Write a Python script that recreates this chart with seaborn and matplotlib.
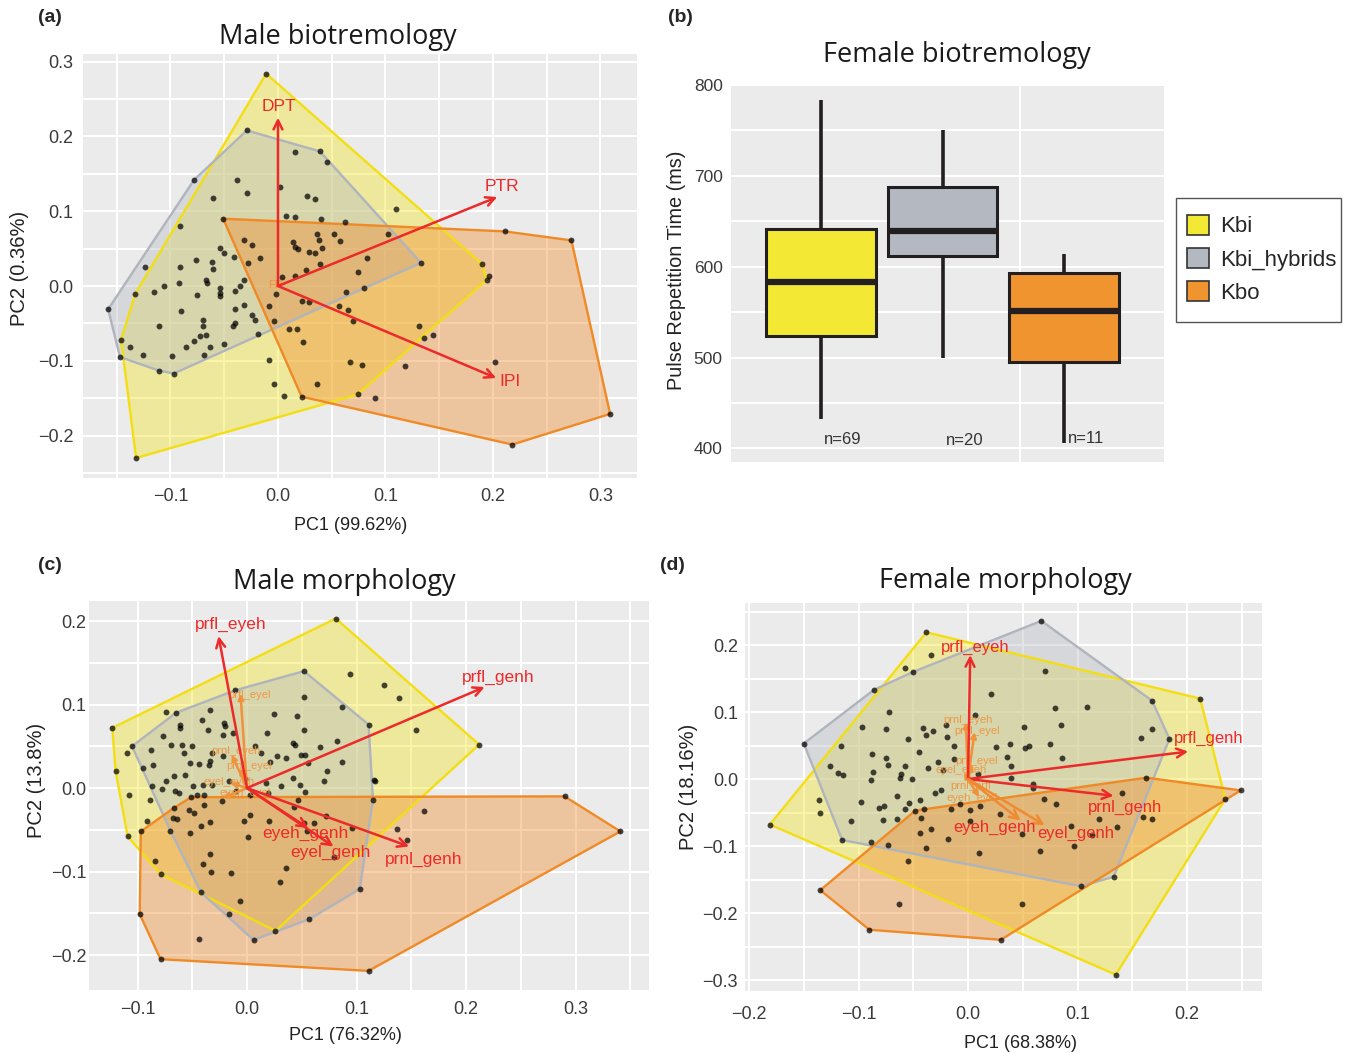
import numpy as np
import pandas as pd
import matplotlib
matplotlib.use("Agg")
import matplotlib.pyplot as plt
from matplotlib.patches import Patch, Rectangle
import seaborn as sns

# ---------------- DATA ----------------
GROUPS = ["Kbi", "Kbi_hybrids", "Kbo"]

# Panel (a) Male biotremology PCA scores
A_KBI = [(-0.011, 0.284), (0.190, 0.029), (0.194, 0.008), (0.074, -0.145), (-0.132, -0.230),
         (-0.146, -0.072), (-0.133, -0.011),
         (0.016, 0.179), (-0.038, 0.142), (-0.029, 0.124), (0.002, 0.132), (-0.060, 0.117),
         (0.027, 0.120), (0.034, 0.116), (0.110, 0.103), (0.007, 0.094), (0.016, 0.092),
         (0.040, 0.089), (0.062, 0.086), (-0.032, 0.062), (-0.024, 0.055), (0.036, 0.069),
         (0.038, 0.061), (0.052, 0.069), (0.058, 0.060), (0.102, 0.069), (0.014, 0.059),
         (0.016, 0.052), (0.019, 0.049), (0.041, 0.051), (0.029, 0.045), (0.034, 0.044),
         (-0.054, 0.051), (-0.050, 0.044), (-0.041, 0.039), (-0.076, 0.035), (-0.061, 0.032),
         (-0.017, 0.037), (-0.028, 0.031), (0.039, 0.029), (0.083, 0.038), (-0.091, 0.025),
         (-0.060, 0.023), (0.026, 0.022), (0.004, 0.012), (0.016, 0.014), (0.074, 0.019),
         (-0.067, 0.008), (-0.066, 0.004), (-0.032, 0.008), (-0.092, 0.004), (-0.106, 0.000),
         (-0.115, -0.008), (-0.054, -0.002), (-0.054, -0.009), (-0.040, -0.007), (-0.035, 0.000),
         (-0.075, -0.012), (-0.054, -0.014), (0.063, -0.008), (-0.002, -0.011), (-0.008, -0.027),
         (0.022, -0.020), (0.029, -0.021), (0.057, -0.027), (0.065, -0.032), (-0.040, -0.031),
         (-0.032, -0.026), (-0.090, -0.033), (-0.024, -0.039), (-0.021, -0.046), (-0.004, -0.047),
         (-0.070, -0.046), (-0.070, -0.054), (-0.040, -0.049), (-0.042, -0.054), (-0.111, -0.053),
         (0.070, -0.047), (0.010, -0.057), (0.018, -0.058), (-0.073, -0.067), (-0.067, -0.066),
         (-0.078, -0.073), (0.023, -0.075), (-0.050, -0.078), (-0.063, -0.082), (-0.086, -0.081),
         (-0.138, -0.082), (-0.126, -0.092), (-0.099, -0.093), (-0.069, -0.092), (-0.008, -0.099),
         (-0.004, -0.131), (0.006, -0.147)]
A_HYB = [(-0.029, 0.208), (0.039, 0.180), (0.046, 0.166), (0.133, 0.031), (-0.019, -0.064),
         (-0.097, -0.117), (-0.111, -0.113), (-0.147, -0.095), (-0.158, -0.031), (-0.078, 0.142),
         (0.080, -0.002), (-0.091, 0.080), (-0.124, 0.025)]
A_KBO = [(-0.051, 0.090), (0.211, 0.073), (0.273, 0.061), (0.309, -0.171), (0.218, -0.212),
         (0.022, -0.148), (0.131, -0.054), (0.136, -0.069), (0.144, -0.066), (0.067, -0.102),
         (0.078, -0.106), (0.118, -0.107), (0.202, -0.101), (0.036, -0.131), (0.090, -0.150),
         (0.196, 0.014)]
A_ARROW_NAMES = ["DPT", "PTR", "IPI"]
A_ARROW_X = [0.000, 0.204, 0.203]
A_ARROW_Y = [0.225, 0.119, -0.123]
A_LABEL_X = [0.001, 0.208, 0.216]
A_LABEL_Y = [0.240, 0.133, -0.128]

# Panel (b) Female biotremology: pulse repetition time (five-number summaries, ms)
B_KBI = [432, 524, 583, 642, 784]
B_HYB = [499, 612, 639, 688, 751]
B_KBO = [406, 495, 551, 593, 614]
B_N = ["n=69", "n=20", "n=11"]
B_N_Y = [410, 409, 411]

# Panel (c) Male morphology PCA scores
C_KBI = [(0.081, 0.203), (0.212, 0.052), (0.026, -0.171), (-0.079, -0.103), (-0.109, -0.058),
         (-0.120, 0.020), (-0.123, 0.072),
         (0.094, 0.136), (0.125, 0.123), (0.139, 0.108), (0.052, 0.109), (0.154, 0.070),
         (0.087, 0.097), (0.046, 0.086), (0.025, 0.089), (-0.034, 0.094), (-0.074, 0.091),
         (-0.041, 0.082), (-0.021, 0.078), (-0.020, 0.074), (-0.061, 0.076), (-0.061, 0.072),
         (-0.036, 0.070), (-0.022, 0.064), (-0.077, 0.062), (0.018, 0.066), (0.052, 0.069),
         (-0.013, 0.066), (-0.069, 0.051), (-0.059, 0.051), (-0.088, 0.046), (-0.110, 0.042),
         (-0.050, 0.050), (0.042, 0.054), (0.044, 0.051), (0.067, 0.049), (0.082, 0.056),
         (-0.058, 0.042), (-0.032, 0.042), (0.027, 0.038), (0.036, 0.036), (0.049, 0.039),
         (0.053, 0.039), (-0.086, 0.028), (-0.052, 0.030), (-0.044, 0.029), (-0.035, 0.028),
         (-0.034, 0.032), (-0.022, 0.038), (0.007, 0.050), (0.013, 0.042), (0.021, 0.031),
         (0.056, 0.030), (0.087, 0.031), (-0.095, 0.024), (-0.057, 0.016), (-0.067, 0.014),
         (-0.074, 0.009), (-0.087, 0.002), (-0.078, -0.001), (-0.049, 0.003), (-0.040, 0.004),
         (-0.032, 0.004), (-0.016, 0.008), (-0.002, 0.011), (0.017, 0.006), (0.031, 0.003),
         (0.042, 0.012), (0.048, 0.004), (0.070, 0.008), (0.073, 0.020), (0.116, 0.010),
         (0.117, 0.008), (-0.108, -0.008), (-0.089, -0.014), (-0.066, -0.003), (-0.062, -0.006),
         (-0.046, -0.008), (-0.039, -0.008), (-0.010, -0.004), (0.003, -0.008), (0.019, -0.006),
         (0.053, -0.005), (0.047, -0.014), (-0.023, -0.015), (-0.039, -0.020), (-0.053, -0.026),
         (-0.068, -0.036), (-0.064, -0.037), (-0.048, -0.030), (-0.034, -0.041), (-0.042, -0.046),
         (-0.003, -0.039), (0.003, -0.032), (0.020, -0.039), (0.043, -0.023), (0.061, -0.042),
         (0.072, -0.034), (0.096, -0.048), (-0.091, -0.040), (-0.052, -0.054), (0.001, -0.059),
         (0.052, -0.042), (0.055, -0.052), (0.079, -0.083), (-0.034, -0.079), (-0.040, -0.091),
         (0.036, -0.096), (-0.015, -0.102), (-0.033, -0.101), (0.030, -0.113), (-0.006, -0.135),
         (-0.084, -0.087)]
C_HYB = [(-0.105, 0.050), (-0.070, -0.051), (-0.042, -0.125), (-0.016, -0.151), (0.006, -0.182),
         (0.057, -0.157), (0.103, -0.121), (0.115, -0.014), (0.111, 0.076), (0.052, 0.140),
         (-0.011, 0.117), (-0.065, 0.090)]
C_KBO = [(-0.051, -0.011), (0.290, -0.010), (0.341, -0.052), (0.111, -0.219), (-0.079, -0.205),
         (-0.098, -0.151), (-0.097, -0.052), (-0.067, -0.024), (0.137, -0.049), (0.146, -0.062),
         (0.162, -0.028), (-0.044, -0.181)]
C_ARROW_NAMES = ["prfl_eyeh", "prfl_genh", "prnl_genh", "eyeh_genh", "eyel_genh"]
C_ARROW_X = [-0.026, 0.217, 0.148, 0.056, 0.079]
C_ARROW_Y = [0.182, 0.121, -0.070, -0.048, -0.070]
C_LABEL_X = [-0.015, 0.229, 0.161, 0.053, 0.076]
C_LABEL_Y = [0.196, 0.133, -0.086, -0.054, -0.077]
C_SMALL_NAMES = ["prfl_eyel", "prnl_eyeh", "prnl_eyel", "eyel_eyeh", "eyeh_eyel"]
C_SMALL_X = [-0.006, -0.014, -0.006, -0.015, -0.022]
C_SMALL_Y = [0.113, 0.040, 0.024, 0.006, -0.012]
C_SMALL_LX = [0.002, -0.010, 0.002, -0.016, -0.002]
C_SMALL_LY = [0.112, 0.044, 0.026, 0.007, -0.006]

# Panel (d) Female morphology PCA scores
D_KBI = [(-0.038, 0.219), (0.212, 0.120), (0.235, -0.030), (0.135, -0.292), (-0.181, -0.068),
         (-0.034, 0.185), (-0.058, 0.166), (0.070, 0.161), (0.021, 0.127), (-0.072, 0.100),
         (0.079, 0.106), (0.109, 0.107), (-0.097, 0.077), (-0.075, 0.075), (-0.041, 0.076),
         (-0.032, 0.071), (-0.038, 0.065), (-0.055, 0.060), (-0.020, 0.081), (0.006, 0.095),
         (0.051, 0.077), (0.085, 0.080), (0.168, 0.074), (0.158, 0.061), (-0.116, 0.050),
         (-0.019, 0.062), (-0.013, 0.050), (0.026, 0.048), (0.038, 0.053), (0.052, 0.047),
         (0.056, 0.050), (0.075, 0.052), (-0.045, 0.041), (-0.088, 0.037), (-0.075, 0.031),
         (-0.073, 0.021), (-0.058, 0.019), (-0.013, 0.030), (-0.027, 0.026), (0.036, 0.033),
         (0.039, 0.020), (0.086, 0.031), (-0.126, 0.019), (-0.119, 0.009), (-0.114, 0.006),
         (-0.087, 0.010), (-0.061, 0.007), (-0.062, 0.001), (-0.051, 0.000), (-0.037, 0.016),
         (-0.023, 0.013), (0.009, 0.007), (0.039, 0.002), (0.059, -0.007), (0.059, -0.014),
         (-0.089, -0.001), (-0.136, -0.031), (-0.135, -0.051), (-0.098, -0.034), (-0.065, -0.025),
         (-0.054, -0.036), (-0.081, -0.044), (-0.077, -0.040), (-0.058, -0.045), (-0.044, -0.032),
         (-0.040, -0.045), (-0.030, -0.021), (-0.025, -0.017), (-0.016, -0.045), (-0.007, -0.038),
         (0.002, -0.046), (0.011, -0.040), (0.029, -0.052), (0.069, -0.030), (0.080, -0.037),
         (0.141, -0.021), (-0.107, -0.063), (-0.078, -0.061), (-0.065, -0.060), (-0.043, -0.058),
         (-0.034, -0.074), (-0.044, -0.080), (-0.018, -0.090), (0.002, -0.062), (0.010, -0.111),
         (-0.038, -0.103), (-0.073, -0.098), (-0.089, -0.094), (-0.055, -0.123), (0.049, -0.082),
         (0.066, -0.107), (0.094, -0.070), (0.097, -0.100), (0.113, -0.084), (0.120, -0.060),
         (0.136, -0.071), (0.160, -0.056), (0.168, -0.059)]
D_HYB = [(-0.150, 0.053), (-0.086, 0.133), (-0.050, 0.160), (0.067, 0.236), (0.168, 0.117),
         (0.184, 0.060), (0.133, -0.146), (0.103, -0.160), (-0.115, -0.091)]
D_KBO = [(-0.135, -0.166), (-0.048, -0.047), (0.163, 0.002), (0.249, -0.017), (0.030, -0.240),
         (-0.090, -0.225), (-0.063, -0.186), (0.049, -0.186)]
D_ARROW_NAMES = ["prfl_eyeh", "prfl_genh", "prnl_genh", "eyeh_genh", "eyel_genh"]
D_ARROW_X = [0.002, 0.201, 0.133, 0.048, 0.070]
D_ARROW_Y = [0.185, 0.041, -0.025, -0.062, -0.069]
D_LABEL_X = [0.007, 0.220, 0.143, 0.024, 0.098]
D_LABEL_Y = [0.197, 0.060, -0.042, -0.073, -0.081]
D_SMALL_NAMES = ["prnl_eyeh", "prnl_eyel", "prfl_eyel", "eyel_eyeh", "prnl_prfl", "eyeh_eyel"]
D_SMALL_X = [-0.002, 0.006, 0.004, -0.004, 0.008, 0.010]
D_SMALL_Y = [0.085, 0.070, 0.022, 0.010, -0.010, -0.027]
D_SMALL_LX = [0.000, 0.008, 0.008, -0.006, 0.002, 0.004]
D_SMALL_LY = [0.088, 0.071, 0.027, 0.014, -0.011, -0.029]

# ---------------- STYLE ----------------
FILL = {"Kbi": "#f3e42a", "Kbi_hybrids": "#b6bac3", "Kbo": "#ef8b2b"}
EDGE = {"Kbi": "#f3de14", "Kbi_hybrids": "#b0b4bc", "Kbo": "#ef8a26"}
BOX = {"Kbi": "#f3e833", "Kbi_hybrids": "#b4b9c1", "Kbo": "#f09430"}
RED = "#ec2a2a"
ORANGE = "#f0923a"
TICKC = "#3a3a3a"

sns.set_theme(style="darkgrid", rc={"axes.facecolor": "#ebebeb", "grid.color": "white",
                                     "figure.facecolor": "white"})
plt.rcParams["font.family"] = ["Liberation Sans", "DejaVu Sans"]

W, H = 1346, 1053
fig = plt.figure(figsize=(W / 100, H / 100), dpi=100)


def rect(x0, y0, x1, y1):
    return [x0 / W, 1 - y1 / H, (x1 - x0) / W, (y1 - y0) / H]


def ftext(px, py, s, **kw):
    fig.text(px / W, 1 - py / H, s, **kw)


def hull(points):
    pts = sorted(set(points))
    if len(pts) < 3:
        return pts

    def cross(o, a, b):
        return (a[0] - o[0]) * (b[1] - o[1]) - (a[1] - o[1]) * (b[0] - o[0])
    lower, upper = [], []
    for p in pts:
        while len(lower) >= 2 and cross(lower[-2], lower[-1], p) <= 0:
            lower.pop()
        lower.append(p)
    for p in reversed(pts):
        while len(upper) >= 2 and cross(upper[-2], upper[-1], p) <= 0:
            upper.pop()
        upper.append(p)
    return lower[:-1] + upper[:-1]


def fmt(v):
    s = f"{abs(v):.1f}"
    return ("\u2212" + s) if v < -1e-9 else s


def biplot(ax, groups, xlim, ylim, xmaj, ymaj, xpad, ypad):
    frames = []
    for g, pts in zip(GROUPS, groups):
        frames.append(pd.DataFrame({"x": [p[0] for p in pts], "y": [p[1] for p in pts], "g": g}))
    df = pd.concat(frames, ignore_index=True)
    for g, pts in zip(GROUPS, groups):
        h = hull(pts)
        hx = [p[0] for p in h] + [h[0][0]]
        hy = [p[1] for p in h] + [h[0][1]]
        ax.fill(hx, hy, facecolor=FILL[g], alpha=0.4, edgecolor="none", zorder=2)
        ax.plot(hx, hy, color=EDGE[g], lw=1.7, zorder=2.5, solid_joinstyle="round")
    sns.scatterplot(data=df, x="x", y="y", color="black", alpha=0.72, s=18, linewidth=0, ax=ax,
                    zorder=3, legend=False)
    ax.set_xlim(*xlim)
    ax.set_ylim(*ylim)
    ax.set_xticks(xmaj)
    ax.set_xticklabels([fmt(v) for v in xmaj])
    ax.set_yticks(ymaj)
    ax.set_yticklabels([fmt(v) for v in ymaj])
    xmin = np.arange(-0.35, 0.401, 0.05)
    ax.set_xticks([v for v in xmin if xlim[0] < v < xlim[1]], minor=True)
    ax.set_yticks([v for v in xmin if ylim[0] < v < ylim[1]], minor=True)
    ax.grid(True, which="both", color="white", lw=1.5)
    ax.set_axisbelow(True)
    ax.tick_params(which="both", length=0, labelsize=13, labelcolor=TICKC)
    ax.tick_params(axis="x", pad=xpad)
    ax.tick_params(axis="y", pad=ypad)
    ax.set_xlabel("")
    ax.set_ylabel("")
    for s in ax.spines.values():
        s.set_visible(False)


def arrows(ax, names, tx, ty, lx, ly, colors, fs=12.5, lw=1.8, ms=16):
    for n, x, y, a, b, c in zip(names, tx, ty, lx, ly, colors):
        ax.annotate("", xy=(x, y), xytext=(0, 0),
                    arrowprops=dict(arrowstyle="->", color=c, lw=lw, mutation_scale=ms,
                                    shrinkA=0, shrinkB=0), zorder=6)
        ax.text(a, b, n, color=RED, fontsize=fs, ha="center", va="center", zorder=7)


def small_arrows(ax, names, tx, ty, lx, ly):
    for n, x, y, a, b in zip(names, tx, ty, lx, ly):
        ax.annotate("", xy=(x, y), xytext=(0, 0),
                    arrowprops=dict(arrowstyle="-|>", color=ORANGE, lw=1.8, mutation_scale=8,
                                    shrinkA=0, shrinkB=0), zorder=5)
        ax.text(a, b, n, color=ORANGE, fontsize=8, ha="center", va="center", zorder=5, alpha=0.9)


TITLE_FONT = ["Open Sans", "DejaVu Sans"]

# ---------------- (a) ----------------
axA = fig.add_axes(rect(83, 54, 637, 478))
biplot(axA, [A_KBI, A_HYB, A_KBO], (-0.1814, 0.3340), (-0.2567, 0.3102),
       [-0.1, 0.0, 0.1, 0.2, 0.3], [-0.2, -0.1, 0.0, 0.1, 0.2, 0.3], 7, 7)
arrows(axA, A_ARROW_NAMES, A_ARROW_X, A_ARROW_Y, A_LABEL_X, A_LABEL_Y, [RED] * 3)
axA.text(-0.002, 0.001, "FR", color=ORANGE, fontsize=8, ha="center", va="center", zorder=5)
ftext(338, 37, "Male biotremology", fontsize=19.5, ha="center", va="center", family=TITLE_FONT, color="#1a1a1a")
ftext(351, 526, "PC1 (99.62%)", fontsize=13, ha="center", va="center", color="#222222")
ftext(20, 268, "PC2 (0.36%)", fontsize=14.5, ha="center", va="center", rotation=90, color="#222222")
ftext(50, 18, "(a)", fontsize=14, fontweight="bold", ha="center", va="center")

# ---------------- (b) ----------------
axB = fig.add_axes(rect(731, 85, 1164, 462))
dfB = pd.DataFrame({"group": ["Kbi"] * 5 + ["Kbi_hybrids"] * 5 + ["Kbo"] * 5,
                    "prt": B_KBI + B_HYB + B_KBO})
sns.boxplot(data=dfB, x="group", y="prt", hue="group", order=GROUPS, hue_order=GROUPS,
            palette=BOX, width=0.9, whis=3, showcaps=False, saturation=1,
            linecolor="#231f20", linewidth=2.2, legend=False, ax=axB,
            medianprops=dict(linewidth=4.5, color="#231f20"),
            whiskerprops=dict(linewidth=2.6, color="#231f20"))
axB.set_xlim(-0.741, 2.823)
axB.set_ylim(385, 800)
axB.set_yticks([400, 500, 600, 700, 800])
axB.set_yticklabels(["400", "500", "600", "700", "800"])
axB.set_yticks([450, 550, 650, 750], minor=True)
axB.set_xticks([1.638])
axB.set_xticklabels([""])
axB.grid(True, which="both", color="white", lw=1.5)
axB.set_axisbelow(True)
axB.tick_params(which="both", length=0)
axB.tick_params(axis="y", pad=6, labelsize=12.5, labelcolor=TICKC)
for lab in axB.get_yticklabels():
    lab.set_family(["Liberation Sans Narrow", "Liberation Sans"])
axB.set_xlabel("")
axB.set_ylabel("")
for s in axB.spines.values():
    s.set_visible(False)
for i, (t, yv) in enumerate(zip(B_N, B_N_Y)):
    axB.text(i + 0.18, yv, t, fontsize=12, ha="center", va="center", color="#333333",
             family=["Liberation Sans Narrow", "Liberation Sans"])
ftext(957, 55, "Female biotremology", fontsize=19.5, ha="center", va="center", family=TITLE_FONT, color="#1a1a1a")
ftext(676, 270, "Pulse Repetition Time (ms)", fontsize=14.3, ha="center", va="center", rotation=90, color="#222222")
ftext(680, 18, "(b)", fontsize=14, fontweight="bold", ha="center", va="center")
fig.add_artist(Rectangle((1176 / W, 1 - 322 / H), 165 / W, 124 / H, transform=fig.transFigure,
                         facecolor="white", edgecolor="#555555", lw=1.0, zorder=1))
handles = [Patch(facecolor=BOX[g], edgecolor="#333333", linewidth=1.2) for g in GROUPS]
leg = fig.legend(handles, GROUPS, loc="upper left", bbox_to_anchor=(1187 / W, 1 - 215 / H),
                 frameon=False, fontsize=16, handlelength=0.99, handleheight=0.99,
                 labelspacing=0.48, borderpad=0, handletextpad=0.5, borderaxespad=0)
leg.set_zorder(2)

# ---------------- (c) ----------------
axC = fig.add_axes(rect(89, 601, 649, 990))
biplot(axC, [C_KBI, C_HYB, C_KBO], (-0.1443, 0.3671), (-0.2419, 0.2240),
       [-0.1, 0.0, 0.1, 0.2, 0.3], [-0.2, -0.1, 0.0, 0.1, 0.2], 8, 2)
small_arrows(axC, C_SMALL_NAMES, C_SMALL_X, C_SMALL_Y, C_SMALL_LX, C_SMALL_LY)
arrows(axC, C_ARROW_NAMES, C_ARROW_X, C_ARROW_Y, C_LABEL_X, C_LABEL_Y, [RED] * 5)
ftext(344, 582, "Male morphology", fontsize=19.5, ha="center", va="center", family=TITLE_FONT, color="#1a1a1a")
ftext(345, 1036, "PC1 (76.32%)", fontsize=13, ha="center", va="center", color="#222222")
ftext(37, 780, "PC2 (13.8%)", fontsize=14.5, ha="center", va="center", rotation=90, color="#222222")
ftext(50, 565, "(c)", fontsize=14, fontweight="bold", ha="center", va="center")

# ---------------- (d) ----------------
axD = fig.add_axes(rect(745, 603, 1262, 991))
biplot(axD, [D_KBI, D_HYB, D_KBO], (-0.2037, 0.2685), (-0.3164, 0.2627),
       [-0.2, -0.1, 0.0, 0.1, 0.2], [-0.3, -0.2, -0.1, 0.0, 0.1, 0.2], 11, 5)
small_arrows(axD, D_SMALL_NAMES, D_SMALL_X, D_SMALL_Y, D_SMALL_LX, D_SMALL_LY)
arrows(axD, D_ARROW_NAMES, D_ARROW_X, D_ARROW_Y, D_LABEL_X, D_LABEL_Y,
       [RED, RED, RED, "#f08a30", "#f08a30"], fs=12)
ftext(1005, 581, "Female morphology", fontsize=19.5, ha="center", va="center", family=TITLE_FONT, color="#1a1a1a")
ftext(1020, 1043, "PC1 (68.38%)", fontsize=13, ha="center", va="center", color="#222222")
ftext(688, 787, "PC2 (18.16%)", fontsize=14.5, ha="center", va="center", rotation=90, color="#222222")
ftext(672, 565, "(d)", fontsize=14, fontweight="bold", ha="center", va="center")

fig.savefig("out.png", dpi=100)
